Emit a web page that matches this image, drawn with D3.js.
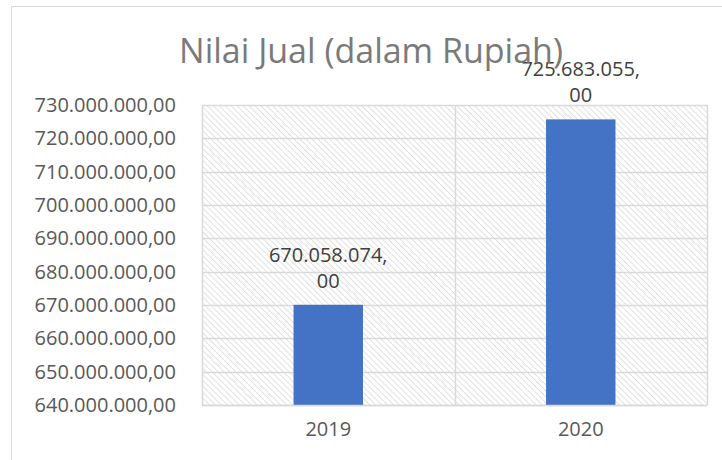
<!DOCTYPE html>
<html>
<head>
<meta charset="utf-8">
<script src="https://cdn.jsdelivr.net/npm/d3@7"></script>
<style>
    body { margin: 0; background: #fff; }
    svg text { font-family: "Open Sans", sans-serif; }
</style>
</head>
<body>
<div id="chart"></div>
<script>
// data
const years = ['2019', '2020'];
const sales = [670058074, 725683055];
const labelLines = [['670.058.074,', '00'], ['725.683.055,', '00']];
const yTicks = [640, 650, 660, 670, 680, 690, 700, 710, 720, 730].map(d => d * 1e6);

const config = {
    width: 722,
    height: 460,
    left: 202,
    right: 707,
    top: 105,
    bottom: 405,
};

const fmt = v => d3.format(',.2f')(v).replace(/,/g, '#').replace('.', ',').replace(/#/g, '.');

const svg = d3.select('#chart')
    .append('svg')
    .attr('width', config.width)
    .attr('height', config.height)
;

// hatch pattern for plot area (downward diagonal)
const pat = svg.append('defs')
    .append('pattern')
    .attr('id', 'hatch')
    .attr('patternUnits', 'userSpaceOnUse')
    .attr('width', 4.2)
    .attr('height', 4.2)
    .attr('patternTransform', 'rotate(-45)')
;
pat.append('line')
    .attr('x1', 0).attr('y1', 0)
    .attr('x2', 0).attr('y2', 4.2)
    .attr('stroke', '#d6d6d6')
    .attr('stroke-width', 1.4)
;

// outer chart border
svg.append('rect')
    .attr('x', 11.5)
    .attr('y', 6.5)
    .attr('width', 740)
    .attr('height', 480)
    .attr('fill', 'none')
    .attr('stroke', '#d9d9d9')
;

const x = d3.scaleBand()
    .domain(years)
    .range([config.left, config.right])
    .paddingInner(0)
;

const y = d3.scaleLinear()
    .domain([640e6, 730e6])
    .range([config.bottom, config.top])
;

// plot area background
svg.append('rect')
    .attr('x', config.left)
    .attr('y', config.top)
    .attr('width', config.right - config.left)
    .attr('height', config.bottom - config.top)
    .attr('fill', 'url(#hatch)')
;

// horizontal gridlines
svg.append('g')
    .selectAll('line')
    .data(yTicks)
    .enter()
    .append('line')
    .attr('x1', config.left)
    .attr('x2', config.right)
    .attr('y1', d => Math.round(y(d)) + 0.5)
    .attr('y2', d => Math.round(y(d)) + 0.5)
    .attr('stroke', '#d9d9d9')
    .attr('stroke-width', 1.5)
;

// vertical category lines
const edges = years.map(d => x(d)).concat([config.right]);
svg.append('g')
    .selectAll('line')
    .data(edges)
    .enter()
    .append('line')
    .attr('x1', d => Math.round(d) + 0.5)
    .attr('x2', d => Math.round(d) + 0.5)
    .attr('y1', config.top)
    .attr('y2', config.bottom)
    .attr('stroke', '#d9d9d9')
    .attr('stroke-width', 1.5)
;

// bars
const barW = x.bandwidth() * 0.275;
svg.append('g')
    .selectAll('rect')
    .data(years)
    .enter()
    .append('rect')
    .attr('x', d => x(d) + (x.bandwidth() - barW) / 2)
    .attr('y', (d, i) => y(sales[i]))
    .attr('width', barW)
    .attr('height', (d, i) => config.bottom - y(sales[i]))
    .attr('fill', '#4472c4')
;

// y axis labels
const yAxis = d3.axisLeft(y)
    .tickValues(yTicks)
    .tickFormat(fmt)
    .tickSize(0)
    .tickPadding(26)
;
const yg = svg.append('g')
    .attr('transform', `translate(${config.left},0)`)
    .call(yAxis)
;
yg.select('.domain').remove();
yg.selectAll('text')
    .attr('font-size', 20)
    .attr('font-family', '"Open Sans", sans-serif')
    .attr('fill', '#595959')
;

// x axis
const xAxis = d3.axisBottom(x).tickSize(0).tickPadding(17);
const xg = svg.append('g')
    .attr('transform', `translate(0,${config.bottom})`)
    .call(xAxis)
;
xg.select('.domain').attr('stroke', '#d9d9d9').attr('stroke-width', 1.5);
xg.selectAll('text')
    .attr('font-size', 20)
    .attr('font-family', '"Open Sans", sans-serif')
    .attr('fill', '#595959')
;

// data labels
years.forEach((d, i) => {
    const cx = x(d) + x.bandwidth() / 2;
    const top = y(sales[i]);
    svg.append('text')
        .attr('x', cx)
        .attr('y', top - 43)
        .attr('text-anchor', 'middle')
        .attr('font-size', 20)
        .attr('fill', '#404040')
        .text(labelLines[i][0])
    ;
    svg.append('text')
        .attr('x', cx)
        .attr('y', top - 17)
        .attr('text-anchor', 'middle')
        .attr('font-size', 20)
        .attr('fill', '#404040')
        .text(labelLines[i][1])
    ;
});

// title
svg.append('text')
    .attr('x', 371)
    .attr('y', 63)
    .attr('text-anchor', 'middle')
    .attr('font-size', 34)
    .attr('fill', '#7a7a7a')
    .text('Nilai Jual (dalam Rupiah)')
;
</script>
</body>
</html>
